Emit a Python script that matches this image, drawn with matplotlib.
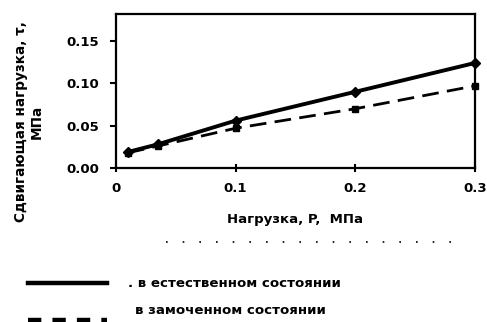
import matplotlib
matplotlib.use('Agg')
import numpy as np
from matplotlib import pyplot as plt
from matplotlib.lines import Line2D

plt.rcParams['font.family'] = ['DejaVu Sans']
plt.rcParams['font.weight'] = 'bold'

# data
load_p = [0.01, 0.035, 0.1, 0.2, 0.3]
tau_natural = [0.019, 0.028, 0.056, 0.090, 0.124]
tau_soaked = [0.018, 0.026, 0.047, 0.070, 0.097]

x_ticks = [0, 0.1, 0.2, 0.3]
x_ticklabels = ['0', '0.1', '0.2', '0.3']
y_ticks = [0.0, 0.05, 0.10, 0.15]
y_ticklabels = ['0.00', '0.05', '0.10', '0.15']
legend_labels = ['. в естественном состоянии', 'в замоченном состоянии']

fig = plt.figure(figsize=(4.87, 3.22), dpi=100)
ax = fig.add_axes([0.238, 0.478, 0.737, 0.479])

ax.plot(load_p, tau_natural, color='black', lw=2.8, marker='D', ms=5, clip_on=False)
ax.plot(load_p, tau_soaked, color='black', lw=2.0, ls=(0, (6, 3)), marker='s', ms=4.5, clip_on=False)

ax.set_xlim(0, 0.3)
ax.set_ylim(0, 0.182)
ax.set_xticks(x_ticks)
ax.set_xticklabels(x_ticklabels)
ax.set_yticks(y_ticks)
ax.set_yticklabels(y_ticklabels)
ax.tick_params(axis='y', direction='out', length=4, width=1.5, labelsize=9.5, pad=8)
ax.tick_params(axis='x', direction='inout', length=6, width=1.5, labelsize=9.5, pad=7)
for s in ax.spines.values():
    s.set_linewidth(1.6)

ax.set_xlabel('Нагрузка, P,  МПа', fontsize=9.5, fontweight='bold')
ax.xaxis.set_label_coords(0.5, -0.29)
ax.set_ylabel('Сдвигающая нагрузка, τ,\nМПа', fontsize=9.8, fontweight='bold')
ax.yaxis.set_label_coords(-0.2, 0.3)

# legend under the chart, drawn by hand like the scan
fig.add_artist(Line2D([0.058, 0.22], [0.121, 0.121], color='black', lw=3.2))
fig.add_artist(Line2D([0.058, 0.22], [0.006, 0.006], color='black', lw=3.2, ls=(0, (3, 2.5))))
fig.text(0.262, 0.121, legend_labels[0], fontsize=9.6, fontweight='bold', va='center')
fig.text(0.277, 0.037, legend_labels[1], fontsize=9.6, fontweight='bold', va='center')

# scan noise dotted line
fig.add_artist(Line2D([0.34, 0.95], [0.248, 0.248], color='black', lw=1.2, ls=(0, (1, 9))))

fig.savefig('out.png', dpi=100)
